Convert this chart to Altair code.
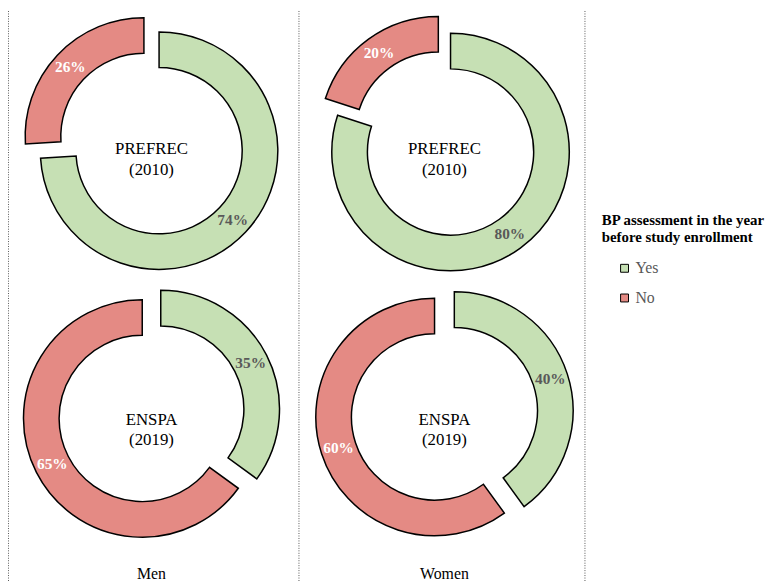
import math
import altair as alt
import pandas as pd

# ---- data ----
groups = ["Men", "Women"]
surveys = ["PREFREC (2010)", "ENSPA (2019)"]
answers = ["Yes", "No"]
yes_men = [74, 35]      # PREFREC, ENSPA
no_men = [26, 65]
yes_women = [80, 40]
no_women = [20, 60]

rows = []
for g, yes_vals, no_vals in [("Men", yes_men, no_men), ("Women", yes_women, no_women)]:
    for i, s in enumerate(surveys):
        rows.append({"gender": g, "survey": s, "answer": "Yes", "order": 0, "value": yes_vals[i]})
        rows.append({"gender": g, "survey": s, "answer": "No", "order": 1, "value": no_vals[i]})
df = pd.DataFrame(rows)
panels = pd.DataFrame([{"gender": g, "survey": s} for g in groups for s in surveys])
groups_df = pd.DataFrame({"gender": groups})

# ---- layout / style ----
W, H = 772, 576
COL_X = {"Men": 145, "Women": 441}
ROW_Y = {"PREFREC (2010)": 134, "ENSPA (2019)": 407}
SEP_X = [0.5, 294, 583]
EXPLODE = 10.5
R_OUT, R_IN = 120, 84
R_MID = (R_OUT + R_IN) / 2
GREEN, RED = "#c6e0b4", "#e48a84"
FONT = "Liberation Serif"

cx_expr = f"datum.gender == 'Men' ? {COL_X['Men']} : {COL_X['Women']}"
cy_expr = f"datum.survey == '{surveys[0]}' ? {ROW_Y[surveys[0]]} : {ROW_Y[surveys[1]]}"

xs = alt.Scale(domain=[0, W], nice=False, zero=False)
ys = alt.Scale(domain=[0, H], nice=False, zero=False, reverse=True)

base = (
    alt.Chart(df)
    .transform_window(cum="sum(value)", groupby=["gender", "survey"], sort=[alt.SortField("order")])
    .transform_calculate(
        start="datum.cum - datum.value",
        end="datum.cum",
        mid="(datum.cum - datum.value / 2) * 2 * PI / 100",
        cx=cx_expr,
        cy=cy_expr,
    )
    .transform_calculate(
        ax=f"datum.cx + {EXPLODE} * sin(datum.mid)",
        ay=f"datum.cy - {EXPLODE} * cos(datum.mid)",
    )
    .transform_calculate(
        lx=f"datum.ax + {R_MID} * sin(datum.mid)",
        ly=f"datum.ay - {R_MID} * cos(datum.mid)",
        label="datum.value + '%'",
    )
)

arcs = base.mark_arc(
    outerRadius=R_OUT, innerRadius=R_IN, stroke="black", strokeWidth=1.5
).encode(
    x=alt.X("ax:Q", scale=xs, axis=None),
    y=alt.Y("ay:Q", scale=ys, axis=None),
    theta=alt.Theta("start:Q", scale=alt.Scale(domain=[0, 100], range=[0, 2 * math.pi])),
    theta2="end:Q",
    color=alt.Color(
        "answer:N",
        scale=alt.Scale(domain=answers, range=[GREEN, RED]),
        legend=alt.Legend(
            title=["BP assessment in the year", "before study enrollment"],
            orient="none",
            legendX=600,
            legendY=204,
            titleFont=FONT,
            titleFontSize=15,
            titleFontWeight="bold",
            titleColor="black",
            titleLimit=400,
            titleLineHeight=17,
            titlePadding=16,
            titleAnchor="start",
            symbolType="square",
            symbolSize=64,
            symbolStrokeColor="black",
            symbolStrokeWidth=1,
            symbolOpacity=1,
            symbolOffset=15,
            labelFont=FONT,
            labelFontSize=16,
            labelColor="#595959",
            labelOffset=3,
            rowPadding=14,
            padding=0,
        ),
    ),
)

pct = base.mark_text(font=FONT, fontSize=15.5, fontWeight="bold", baseline="middle", align="center").encode(
    x=alt.X("lx:Q", scale=xs, axis=None),
    y=alt.Y("ly:Q", scale=ys, axis=None),
    text="label:N",
    color=alt.condition("datum.answer == 'Yes'", alt.value("#595959"), alt.value("white")),
)

center = (
    alt.Chart(panels)
    .transform_calculate(cx=cx_expr, cy=cy_expr)
    .transform_calculate(ty="datum.cy + 6")
    .mark_text(font=FONT, fontSize=17, lineBreak=" ", lineHeight=21, baseline="middle", align="center", color="black")
    .encode(
        x=alt.X("cx:Q", scale=xs, axis=None),
        y=alt.Y("ty:Q", scale=ys, axis=None),
        text="survey:N",
    )
)

col_labels = (
    alt.Chart(groups_df)
    .transform_calculate(cx=cx_expr, ty="569")
    .mark_text(font=FONT, fontSize=16, baseline="middle", align="center", color="black")
    .encode(
        x=alt.X("cx:Q", scale=xs, axis=None),
        y=alt.Y("ty:Q", scale=ys, axis=None),
        text="gender:N",
    )
)

rules = (
    alt.Chart(pd.DataFrame({"sx": SEP_X}))
    .mark_rule(color="#555555", strokeWidth=1, strokeDash=[1, 1.5])
    .encode(x=alt.X("sx:Q", scale=xs, axis=None), y=alt.value(0), y2=alt.value(H))
)

chart = (
    alt.layer(rules, arcs, pct, center, col_labels)
    .properties(width=W, height=H, padding=0, autosize=alt.AutoSizeParams(type="none"))
    .configure_view(strokeWidth=0)
)

chart.save("out.html", embed_options={"renderer": "svg", "actions": False})
